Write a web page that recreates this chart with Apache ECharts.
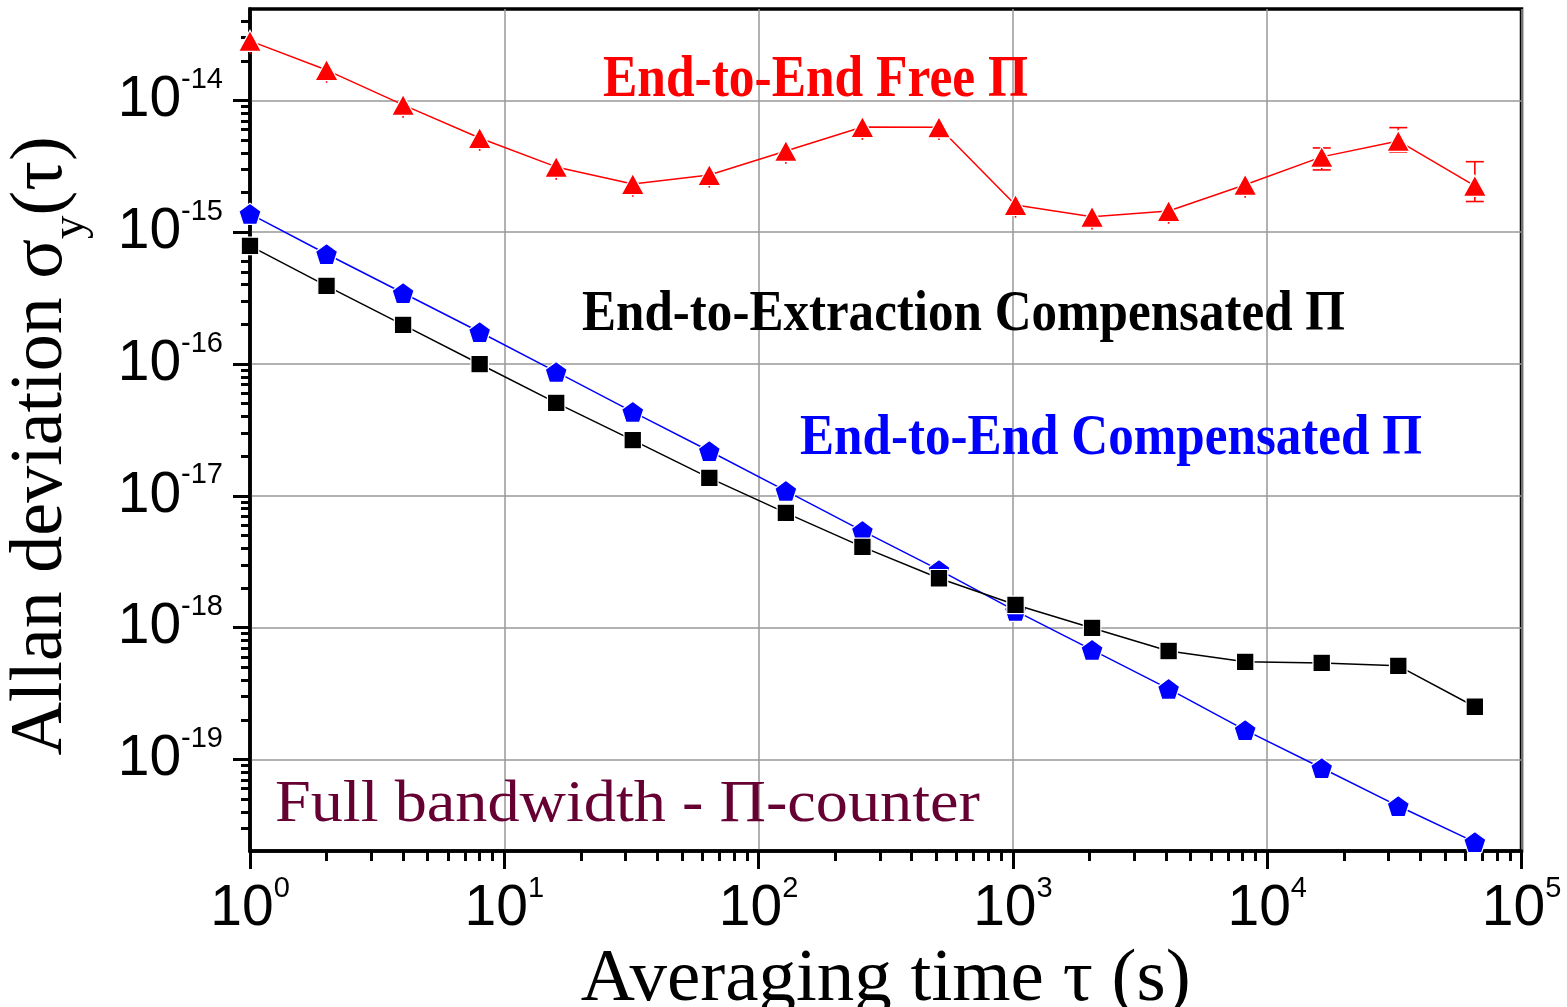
<!DOCTYPE html>
<html>
<head>
<meta charset="utf-8">
<title>Allan deviation</title>
<script src="https://cdn.jsdelivr.net/npm/echarts@6/dist/echarts.min.js"></script>
<style>
  html, body { margin: 0; padding: 0; background: #ffffff; }
  #chart { width: 1567px; height: 1007px; }
</style>
</head>
<body>
<div id="chart"></div>
<script>
// Averaging times (s)
const tau = [1, 2, 4, 8, 16, 32, 64, 128, 256, 512, 1024, 2048, 4096, 8192, 16384, 32768, 65536];

// End-to-End, free running link
const freeE2E = [2.83e-14, 1.70e-14, 9.25e-15, 5.19e-15, 3.13e-15, 2.32e-15, 2.72e-15, 4.14e-15, 6.29e-15, 6.25e-15, 1.61e-15, 1.31e-15, 1.45e-15, 2.29e-15, 3.73e-15, 4.93e-15, 2.25e-15];
const freeE2ELow = [2.26e-14, 1.36e-14, 7.40e-15, 4.15e-15, 2.50e-15, 1.86e-15, 2.18e-15, 3.31e-15, 5.03e-15, 5.00e-15, 1.29e-15, 1.05e-15, 1.16e-15, 1.83e-15, 2.97e-15, 4.07e-15, 1.71e-15];
const freeE2EHigh = [3.17e-14, 1.90e-14, 1.04e-14, 5.81e-15, 3.51e-15, 2.60e-15, 3.05e-15, 4.64e-15, 7.04e-15, 7.00e-15, 1.80e-15, 1.47e-15, 1.62e-15, 2.56e-15, 4.36e-15, 6.22e-15, 3.43e-15];

// End-to-Extraction, compensated
const compExtraction = [7.87e-16, 3.92e-16, 1.98e-16, 1.00e-16, 5.07e-17, 2.65e-17, 1.37e-17, 7.42e-18, 4.10e-18, 2.37e-18, 1.49e-18, 9.95e-19, 6.65e-19, 5.50e-19, 5.40e-19, 5.13e-19, 2.51e-19];

// End-to-End, compensated
const compE2E = [1.38e-15, 6.84e-16, 3.46e-16, 1.75e-16, 8.71e-17, 4.34e-17, 2.19e-17, 1.09e-17, 5.42e-18, 2.74e-18, 1.34e-18, 6.78e-19, 3.43e-19, 1.67e-19, 8.61e-20, 4.43e-20, 2.36e-20];

// Axis ranges and decade ticks
const xRange = [1, 1e5];
const yRange = [2.02e-20, 4.94e-14];
const xDecades = [1, 10, 100, 1000, 10000, 100000];
const yDecades = [1e-19, 1e-18, 1e-17, 1e-16, 1e-15, 1e-14];

// Minor ticks at 2..9 times each decade, kept inside the axis range
function minorTicks(range) {
  const out = [];
  const lo = Math.floor(Math.log10(range[0]));
  const hi = Math.ceil(Math.log10(range[1]));
  for (let d = lo; d < hi; d++) {
    for (let m = 2; m <= 9; m++) {
      const v = m * Math.pow(10, d);
      if (v > range[0] && v < range[1]) out.push(v);
    }
  }
  return out;
}
const xMinor = minorTicks(xRange);
const yMinor = minorTicks(yRange);

const SANS = '"Liberation Sans", Arial, Helvetica, sans-serif';
const SERIF = '"Liberation Serif", "Times New Roman", Times, serif';

function powerLabel(v) {
  const e = Math.round(Math.log10(v));
  return '{b|10}{e|' + e + '}';
}
const powerRich = {
  b: { fontFamily: SANS, fontSize: 57, color: '#000', lineHeight: 70 },
  e: { fontFamily: SANS, fontSize: 29, color: '#000', verticalAlign: 'top', lineHeight: 29 }
};

const axisBlack = { color: '#000', width: 3.5 };
const gridGray = { color: '#999999', width: 1.5, type: 'solid' };

const PENTAGON = 'path://M50 0 L97.55 34.55 L79.39 90.45 L20.61 90.45 L2.45 34.55 Z';

// Text fitting for the in-plot captions (condensed bold serif)
const measureCtx = document.createElement('canvas').getContext('2d');
function fitScale(text, font, width) {
  measureCtx.font = font;
  return width / measureCtx.measureText(text).width;
}
const captions = [
  { text: 'End-to-End Free \u03A0', font: 'bold 59px ' + SERIF, color: '#ff0000', left: 603, mid: 81, width: 425 },
  { text: 'End-to-Extraction Compensated \u03A0', font: 'bold 57px ' + SERIF, color: '#000000', left: 582, mid: 315, width: 763 },
  { text: 'End-to-End Compensated \u03A0', font: 'bold 57px ' + SERIF, color: '#0000ff', left: 800, mid: 439, width: 622 },
  { text: 'Full bandwidth - \u03A0-counter', font: '59px ' + SERIF, color: '#660033', left: 275, mid: 805, width: 705 }
];
const captionGraphics = captions.map(c => ({
  type: 'text',
  x: c.left,
  y: c.mid,
  scaleX: fitScale(c.text, c.font, c.width),
  z: 20,
  silent: true,
  style: {
    text: c.text,
    font: c.font,
    fill: c.color,
    align: 'left',
    verticalAlign: 'middle',
    textAlign: 'left',
    textVerticalAlign: 'middle'
  }
}));

const chart = echarts.init(document.getElementById('chart'), null, { renderer: 'canvas' });

const option = {
  animation: false,
  backgroundColor: '#ffffff',
  grid: {
    left: 250, right: 45.5, top: 9, bottom: 156,
    show: true, borderColor: '#000', borderWidth: 3.5, backgroundColor: 'transparent',
    containLabel: false,
    outerBoundsMode: 'none'
  },
  xAxis: [
    {
      type: 'log', logBase: 10, min: xRange[0], max: xRange[1],
      position: 'bottom',
      axisLine: { show: true, onZero: false, lineStyle: axisBlack },
      axisTick: { show: true, inside: false, length: 18, customValues: xDecades, lineStyle: { color: '#000', width: 3 } },
      minorTick: { show: false },
      axisLabel: {
        show: true, customValues: xDecades, margin: 23,
        formatter: powerLabel, rich: powerRich,
        showMinLabel: true, showMaxLabel: true, hideOverlap: false
      },
      splitLine: { show: true, lineStyle: gridGray },
      name: 'Averaging time \u03C4 (s)',
      nameLocation: 'middle',
      nameGap: 78,
      nameTextStyle: { fontFamily: SERIF, fontSize: 75, color: '#000' }
    },
    {
      type: 'log', logBase: 10, min: xRange[0], max: xRange[1],
      position: 'bottom',
      axisLine: { show: false, onZero: false },
      axisTick: { show: true, inside: false, length: 10, customValues: xMinor, lineStyle: { color: '#000', width: 3 } },
      axisLabel: { show: false },
      splitLine: { show: false }
    }
  ],
  yAxis: [
    {
      type: 'log', logBase: 10, min: yRange[0], max: yRange[1],
      position: 'left',
      axisLine: { show: true, onZero: false, lineStyle: axisBlack },
      axisTick: { show: true, inside: false, length: 17, customValues: yDecades, lineStyle: { color: '#000', width: 3 } },
      minorTick: { show: false },
      axisLabel: {
        show: true, customValues: yDecades, margin: 27,
        formatter: powerLabel, rich: powerRich,
        showMinLabel: true, showMaxLabel: true, hideOverlap: false
      },
      splitLine: { show: true, lineStyle: gridGray },
      name: 'Allan deviation \u03C3{sub|y}(\u03C4)',
      nameLocation: 'middle',
      nameRotate: 90,
      nameGap: 156,
      nameTextStyle: {
        fontFamily: SERIF, fontSize: 74, color: '#000',
        padding: [0, 32, 0, 0],
        rich: { sub: { fontFamily: SERIF, fontSize: 47, color: '#000', padding: [58, 0, 0, 0] } }
      }
    },
    {
      type: 'log', logBase: 10, min: yRange[0], max: yRange[1],
      position: 'left',
      axisLine: { show: false, onZero: false },
      axisTick: { show: true, inside: false, length: 9, customValues: yMinor, lineStyle: { color: '#000', width: 3 } },
      axisLabel: { show: false },
      splitLine: { show: false }
    }
  ],
  graphic: captionGraphics,
  series: [
    {
      // error bars of the free-running link
      type: 'custom',
      xAxisIndex: 0, yAxisIndex: 0,
      z: 1,
      silent: true,
      data: tau.map((t, i) => [t, freeE2ELow[i], freeE2EHigh[i], freeE2E[i]]),
      encode: { x: 0, y: [1, 2] },
      renderItem: function (params, api) {
        const x = api.value(0);
        const lo = api.coord([x, api.value(1)]);
        const hi = api.coord([x, api.value(2)]);
        const stroke = { stroke: '#ff0000', lineWidth: 1.6 };
        const children = [
          { type: 'line', shape: { x1: lo[0], y1: lo[1], x2: hi[0], y2: hi[1] }, style: stroke }
        ];
        // caps only on the wide bars
        if (api.value(2) / api.value(1) > 1.45) {
          const half = 9;
          children.push({ type: 'line', shape: { x1: lo[0] - half, y1: lo[1], x2: lo[0] + half, y2: lo[1] }, style: stroke });
          children.push({ type: 'line', shape: { x1: hi[0] - half, y1: hi[1], x2: hi[0] + half, y2: hi[1] }, style: stroke });
        }
        return { type: 'group', children: children };
      }
    },
    {
      name: 'End-to-End Compensated',
      type: 'line',
      xAxisIndex: 0, yAxisIndex: 0,
      z: 3,
      data: tau.map((t, i) => [t, compE2E[i]]),
      symbol: PENTAGON,
      symbolSize: [22, 21],
      showAllSymbol: true,
      lineStyle: { color: '#0000ff', width: 1.5 },
      itemStyle: { color: '#0000ff', borderColor: '#ffffff', borderWidth: 1.2 },
      emphasis: { disabled: true }
    },
    {
      name: 'End-to-Extraction Compensated',
      type: 'line',
      xAxisIndex: 0, yAxisIndex: 0,
      z: 4,
      data: tau.map((t, i) => [t, compExtraction[i]]),
      symbol: 'rect',
      symbolSize: [17.5, 17.5],
      showAllSymbol: true,
      lineStyle: { color: '#000000', width: 1.5 },
      itemStyle: { color: '#000000', borderColor: '#ffffff', borderWidth: 1.2 },
      emphasis: { disabled: true }
    },
    {
      name: 'End-to-End Free',
      type: 'line',
      xAxisIndex: 0, yAxisIndex: 0,
      z: 5,
      data: tau.map((t, i) => [t, freeE2E[i]]),
      symbol: 'triangle',
      symbolSize: [23, 21],
      showAllSymbol: true,
      lineStyle: { color: '#ff0000', width: 1.5 },
      itemStyle: { color: '#ff0000', borderColor: '#ffffff', borderWidth: 1.2 },
      emphasis: { disabled: true }
    }
  ]
};

chart.setOption(option);
</script>
</body>
</html>
